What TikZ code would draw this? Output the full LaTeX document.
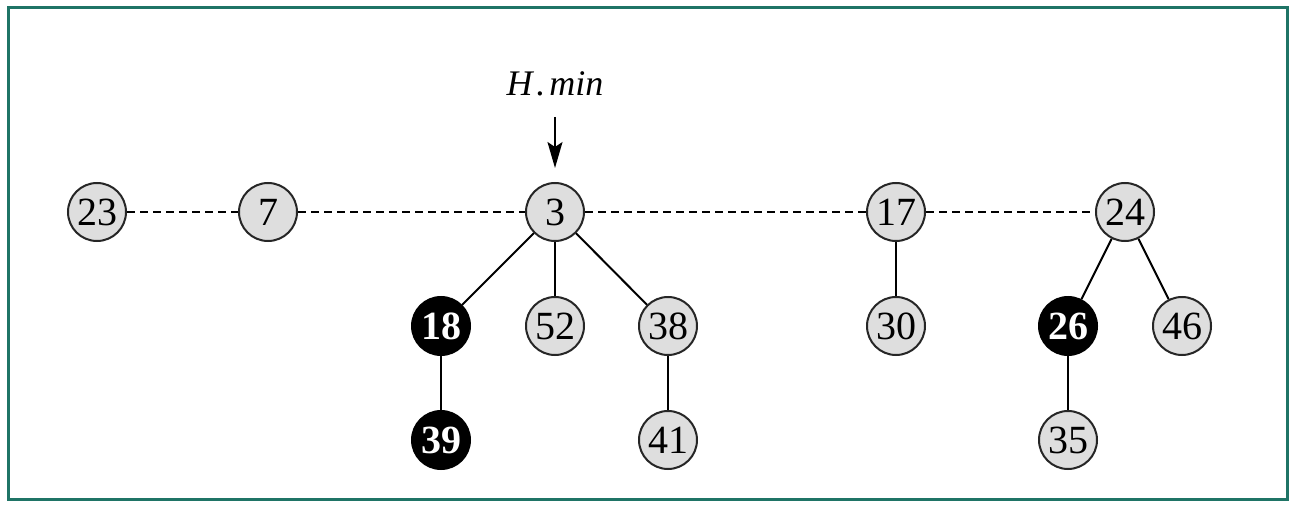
\documentclass[tikz,border=0pt]{standalone}
\usepackage{fontspec}
\setmainfont{Liberation Serif}
\usetikzlibrary{arrows.meta}
\definecolor{frame}{HTML}{1F7466}
\definecolor{nodegray}{HTML}{DEDEDE}
\begin{document}
\begin{tikzpicture}[x=1pt,y=-1pt,
  key/.style={circle,draw=black!85,line width=2pt,fill=nodegray,minimum size=58pt,inner sep=0pt,font=\fontsize{40}{44}\selectfont},
  mark key/.style={circle,draw=black,line width=2pt,fill=black,text=white,minimum size=58pt,inner sep=0pt,font=\fontsize{40}{44}\selectfont\bfseries},
  rootlist/.style={dash pattern=on 8pt off 5pt,line width=1.6pt},
  child/.style={line width=2pt}]
\useasboundingbox (0,0) rectangle (1291,508);
\draw[frame,line width=3pt] (8,8) rectangle (1287,499);
\node[key] (n23) at (97,212) {23};
\node[key] (n7) at (268,212) {7};
\node[key] (n3) at (555,212) {3};
\node[key] (n17) at (896,212) {17};
\node[key] (n24) at (1125,212) {24};
\node[mark key] (n18) at (441,326) {18};
\node[key] (n52) at (555,326) {52};
\node[key] (n38) at (668,326) {38};
\node[key] (n30) at (896,326) {30};
\node[mark key] (n26) at (1068,326) {26};
\node[key] (n46) at (1182,326) {46};
\node[mark key] (n39) at (441,440) {39};
\node[key] (n41) at (668,440) {41};
\node[key] (n35) at (1068,440) {35};
\node[font=\fontsize{36}{40}\selectfont\itshape] (hmin) at (555,84) {H\kern4pt.\kern4pt min};
\coordinate (arrtop) at (555,117);
\draw[rootlist] (n23) -- (n7);
\draw[rootlist] (n7) -- (n3);
\draw[rootlist] (n3) -- (n17);
\draw[rootlist] (n17) -- (n24);
\draw[child] (n3) -- (n18);
\draw[child] (n3) -- (n52);
\draw[child] (n3) -- (n38);
\draw[child] (n18) -- (n39);
\draw[child] (n38) -- (n41);
\draw[child] (n17) -- (n30);
\draw[child] (n24) -- (n26);
\draw[child] (n24) -- (n46);
\draw[child] (n26) -- (n35);
\draw[line width=1.8pt,-{Stealth[length=26pt,width=15pt,inset=5pt]}] (arrtop) -- ([yshift=14pt]n3.north);
\end{tikzpicture}
\end{document}
